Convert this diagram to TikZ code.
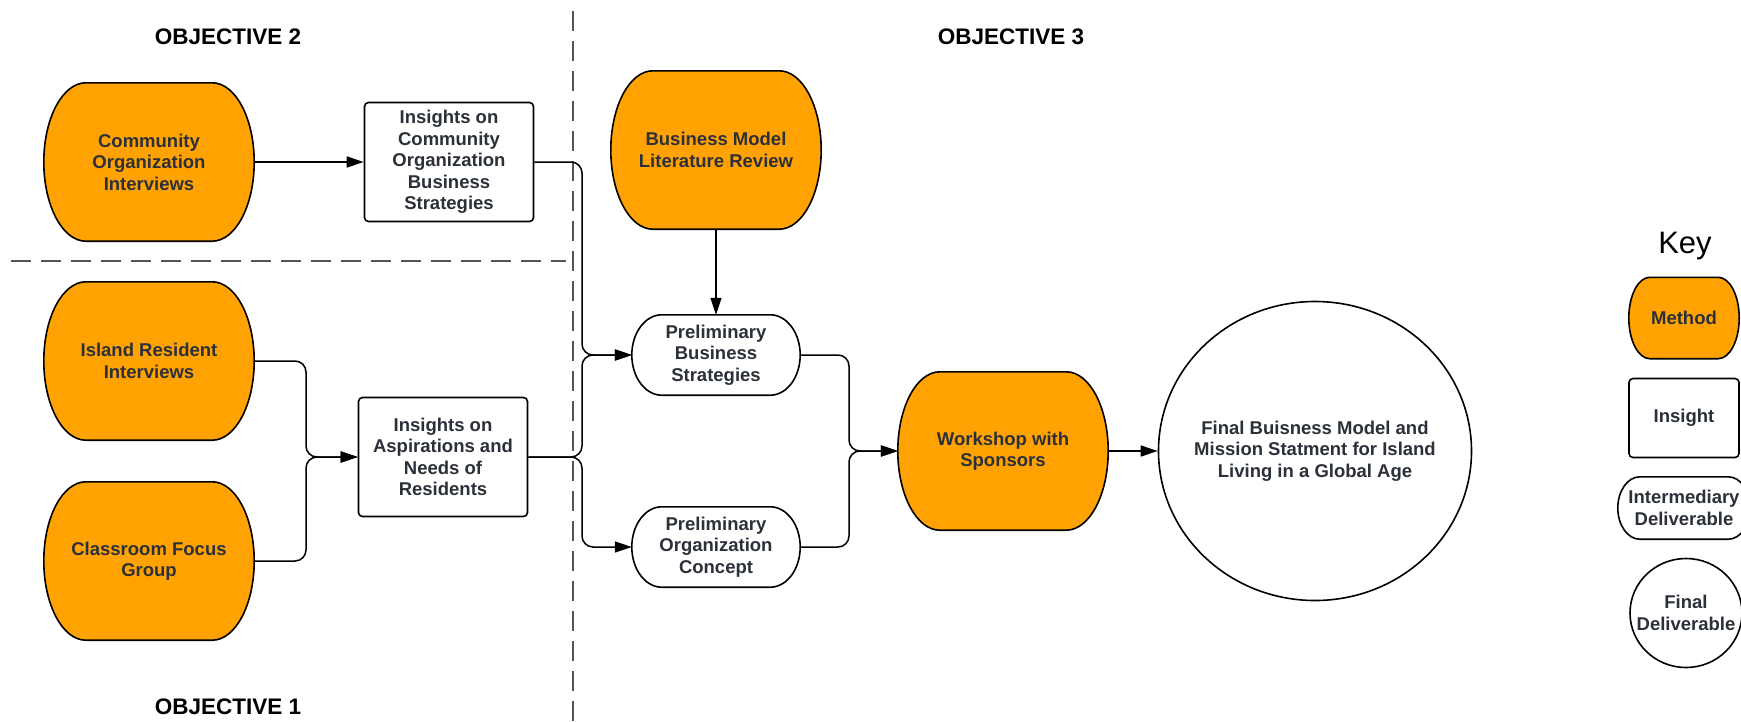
\documentclass[tikz,border=0pt]{standalone}
\usepackage{fontspec}
\setmainfont{Liberation Sans}
\usetikzlibrary{calc,backgrounds,arrows.meta,shapes.geometric}
\definecolor{methodorange}{HTML}{FFA202}
\definecolor{txt}{HTML}{2B3039}
\definecolor{dashgray}{HTML}{555555}
\tikzset{
  lbl/.style={inner sep=0pt, align=center, text=txt, font=\bfseries\fontsize{18.5}{21.5}\selectfont},
  method/.style={lbl, minimum width=210pt, minimum height=158pt},
  insight/.style={lbl, draw=black, line width=1.6pt, rounded corners=4pt, fill=white, minimum width=169pt, minimum height=119pt},
  inter/.style={lbl, minimum width=168pt, minimum height=80pt},
  finalnode/.style={draw=black, line width=1.6pt, ellipse, fill=white, inner sep=0pt},
  shapeline/.style={draw=black, line width=1.6pt},
  conn/.style={draw=black, line width=1.5pt, rounded corners=11pt},
  arr/.style={conn, -{Triangle[length=17pt,width=11pt]}},
  sep/.style={draw=dashgray, line width=1.3pt, dash pattern=on 20pt off 10pt},
  objlbl/.style={inner sep=0pt, text=black, font=\bfseries\fontsize{22.5}{26}\selectfont},
}
\newcommand\capsuleshape[3]{%
  \draw[shapeline,fill=#3] let \p1=(#1.north west), \p2=(#1.south east), \n1={(\y1-\y2)/2} in
   (\x1+#2,\y1) -- (\x2-#2,\y1) arc[start angle=90,end angle=-90,x radius=#2,y radius=\n1]
   -- (\x1+#2,\y2) arc[start angle=270,end angle=90,x radius=#2,y radius=\n1] -- cycle;}
\begin{document}
\begin{tikzpicture}[x=1pt,y=-1pt]
\useasboundingbox (0,0) rectangle (1741,721);
% separators
\draw[sep] (573,11) coordinate (vtop) -- (573,721) coordinate (vbot);
\draw[sep] (11,261) coordinate (hl) -- (566,261) coordinate (hr);
% objective labels
\node[objlbl] (obj2) at (228,37) {OBJECTIVE 2};
\node[objlbl] (obj3) at (1011,37) {OBJECTIVE 3};
\node[objlbl] (obj1) at (228,707) {OBJECTIVE 1};
% nodes
\node[method] (coi) at (149,162) {Community\\Organization\\Interviews};
\node[method] (iri) at (149,361) {Island Resident\\Interviews};
\node[method] (cfg) at (149,561) {Classroom Focus\\Group};
\node[insight] (ins1) at (449,162) {Insights on\\Community\\Organization\\Business\\Strategies};
\node[insight] (ins2) at (443,457) {Insights on\\Aspirations and\\Needs of\\Residents};
\node[method] (bml) at (716,150) {Business Model\\Literature Review};
\node[inter] (pbs) at (716,355) {Preliminary\\Business\\Strategies};
\node[inter] (poc) at (716,547) {Preliminary\\Organization\\Concept};
\node[method] (ws) at (1003,451) {Workshop with\\Sponsors};
\node[finalnode, minimum width=313pt, minimum height=299pt] (fin) at (1315,451) {};
\node[lbl] (fintext) at (fin.center) {Final Buisness Model and\\Mission Statment for Island\\Living in a Global Age};
% key
\node[inner sep=0pt, text=black, font=\fontsize{31}{36}\selectfont] (key) at (1685,246) {Key};
\node[lbl, minimum width=110pt, minimum height=81pt] (kmethod) at (1684,318) {Method};
\node[insight, minimum width=110pt, minimum height=79pt] (kinsight) at (1684,418) {Insight};
\node[lbl, minimum width=132pt, minimum height=62pt] (kinter) at (1684,508) {Intermediary\\Deliverable};
\node[finalnode, minimum width=112pt, minimum height=109pt] (kfinal) at (1686,613) {};
\node[lbl] (kfinaltext) at (kfinal.center) {Final\\Deliverable};
% custom shapes behind
\begin{pgfonlayer}{background}
\fill[white] (0,0) rectangle (1741,721);
\capsuleshape{coi}{42pt}{methodorange}
\capsuleshape{iri}{42pt}{methodorange}
\capsuleshape{cfg}{42pt}{methodorange}
\capsuleshape{bml}{42pt}{methodorange}
\capsuleshape{ws}{42pt}{methodorange}
\capsuleshape{kmethod}{21pt}{methodorange}
\capsuleshape{pbs}{30pt}{white}
\capsuleshape{poc}{30pt}{white}
\capsuleshape{kinter}{22pt}{white}
\end{pgfonlayer}
% connectors
\draw[arr] (coi.east) -- (ins1.west);
\draw[arr] (iri.east) -| (306,457) -- (ins2.west);
\draw[arr] (cfg.east) -| (306,457) -- (ins2.west);
\draw[arr] (ins1.east) -| (582,355) -- (pbs.west);
\draw[arr] (ins2.east) -| (582,355) -- (pbs.west);
\draw[arr] (ins2.east) -| (582,547) -- (poc.west);
\draw[arr] (bml.south) -- (pbs.north);
\draw[arr] (pbs.east) -| (849,451) -- (ws.west);
\draw[arr] (poc.east) -| (849,451) -- (ws.west);
\draw[arr] (ws.east) -- (fin.west);
\end{tikzpicture}
\end{document}
